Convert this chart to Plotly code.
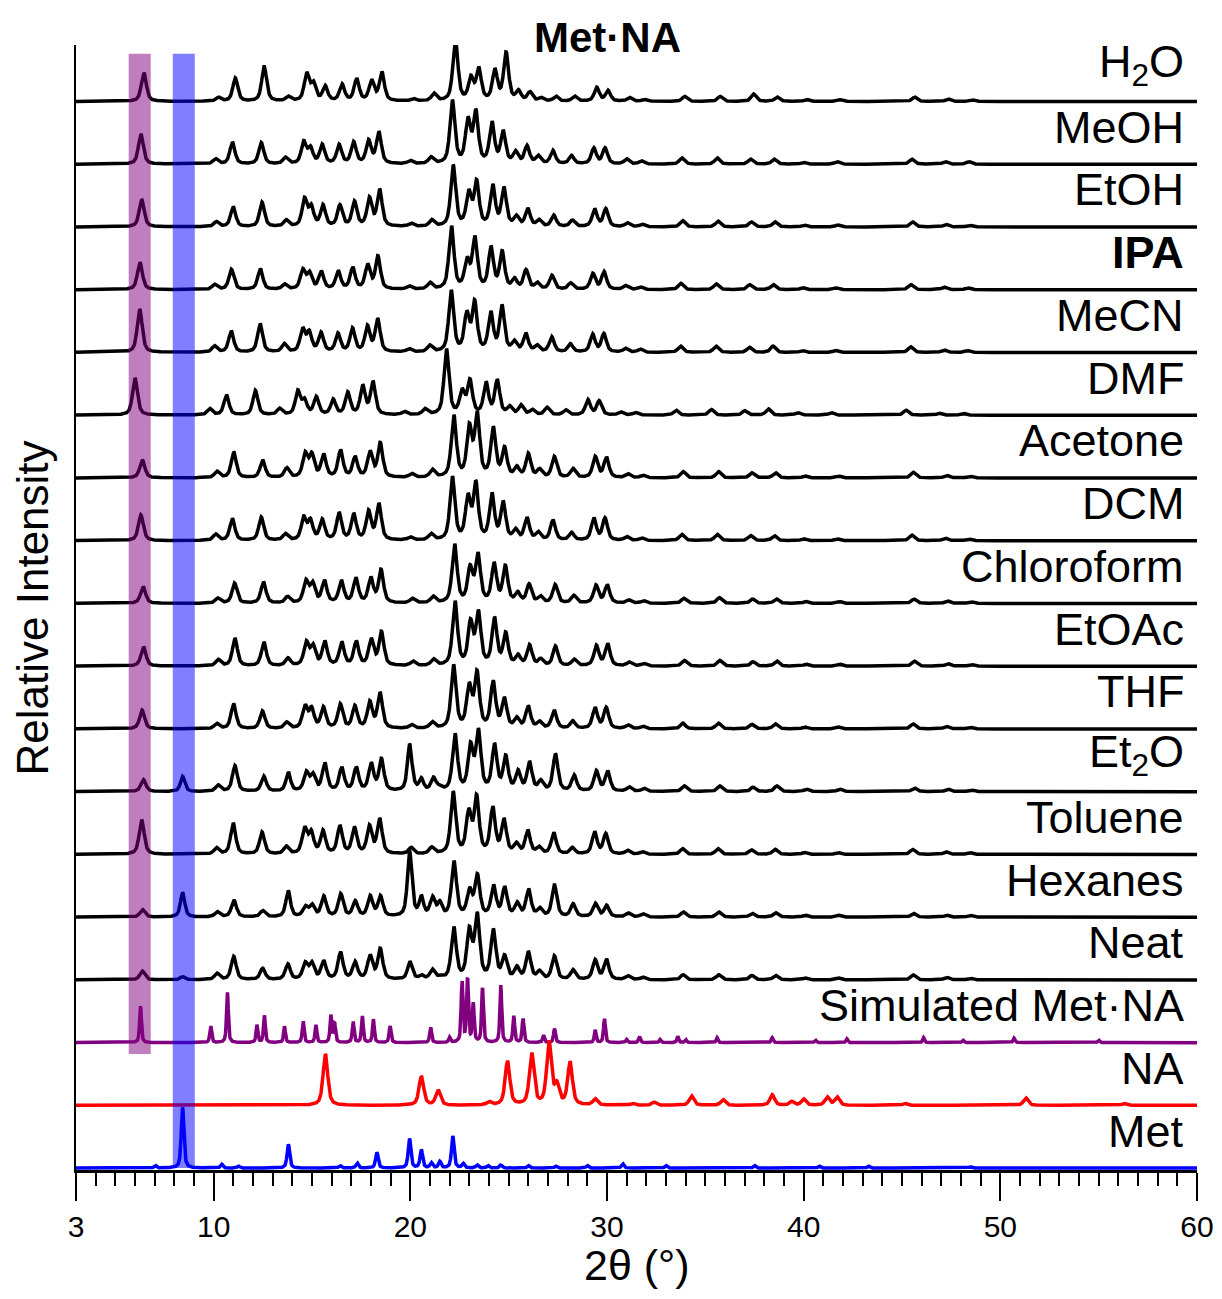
import numpy as np
import plotly.graph_objects as go

# ---------------- data ----------------
two_theta = np.arange(3.0, 60.0001, 0.02)

# common Met·NA reflections (experimental patterns)
metna_pos = [6.30, 10.10, 10.95, 12.42, 13.65, 14.58, 14.92, 15.52, 16.38, 17.12,
             17.88, 18.40, 20.00, 21.05, 22.14, 22.93, 23.33, 24.15, 24.72, 25.35,
             25.93, 26.50, 27.25, 28.20, 29.33, 29.90, 31.00, 31.75, 33.80, 35.60,
             37.30, 38.50, 40.00, 41.70, 45.50, 47.20, 48.40]

h2o_int = [0.46, 0.06, 0.37, 0.55, 0.07, 0.43, 0.27, 0.23, 0.26, 0.35, 0.32, 0.46, 0.04, 0.12,
           1.00, 0.35, 0.50, 0.48, 0.76, 0.15, 0.14, 0.05, 0.08, 0.08, 0.22, 0.17, 0.06, 0.03,
           0.08, 0.08, 0.12, 0.07, 0.03, 0.03, 0.07, 0.04, 0.03]
meoh_int = [0.48, 0.08, 0.35, 0.34, 0.10, 0.34, 0.24, 0.30, 0.30, 0.34, 0.36, 0.50, 0.05, 0.10,
            1.00, 0.67, 0.80, 0.64, 0.50, 0.18, 0.28, 0.12, 0.21, 0.13, 0.25, 0.25, 0.08, 0.05,
            0.10, 0.10, 0.08, 0.08, 0.03, 0.04, 0.08, 0.04, 0.04]
etoh_int = [0.44, 0.08, 0.32, 0.39, 0.10, 0.43, 0.30, 0.33, 0.33, 0.39, 0.44, 0.58, 0.05, 0.10,
            0.97, 0.52, 0.69, 0.64, 0.60, 0.15, 0.28, 0.10, 0.18, 0.10, 0.28, 0.28, 0.06, 0.04,
            0.10, 0.09, 0.08, 0.08, 0.03, 0.03, 0.08, 0.04, 0.03]
ipa_int = [0.44, 0.08, 0.32, 0.33, 0.08, 0.30, 0.25, 0.28, 0.29, 0.34, 0.38, 0.52, 0.05, 0.10,
           1.00, 0.44, 0.80, 0.65, 0.58, 0.15, 0.30, 0.10, 0.22, 0.10, 0.25, 0.28, 0.06, 0.04,
           0.10, 0.09, 0.08, 0.08, 0.03, 0.03, 0.08, 0.04, 0.03]
mecn_int = [0.69, 0.10, 0.34, 0.45, 0.13, 0.36, 0.30, 0.30, 0.29, 0.37, 0.40, 0.52, 0.05, 0.10,
            0.97, 0.58, 0.77, 0.61, 0.72, 0.15, 0.29, 0.10, 0.24, 0.13, 0.28, 0.29, 0.06, 0.05,
            0.10, 0.10, 0.08, 0.10, 0.03, 0.03, 0.09, 0.04, 0.03]
dmf_int = [0.59, 0.10, 0.32, 0.39, 0.10, 0.37, 0.22, 0.28, 0.24, 0.35, 0.45, 0.52, 0.05, 0.09,
           1.04, 0.36, 0.53, 0.50, 0.54, 0.12, 0.15, 0.08, 0.12, 0.08, 0.24, 0.22, 0.05, 0.04,
           0.08, 0.09, 0.07, 0.10, 0.04, 0.04, 0.08, 0.03, 0.03]
acetone_int = [0.29, 0.10, 0.41, 0.28, 0.15, 0.37, 0.35, 0.36, 0.43, 0.32, 0.40, 0.54, 0.06, 0.12,
               0.98, 0.77, 0.98, 0.77, 0.45, 0.15, 0.37, 0.12, 0.33, 0.14, 0.33, 0.32, 0.06, 0.04,
               0.10, 0.10, 0.08, 0.08, 0.03, 0.03, 0.09, 0.04, 0.03]
dcm_int = [0.41, 0.10, 0.35, 0.37, 0.10, 0.35, 0.30, 0.32, 0.43, 0.41, 0.45, 0.57, 0.05, 0.10,
           1.00, 0.66, 0.88, 0.72, 0.59, 0.15, 0.35, 0.12, 0.32, 0.12, 0.35, 0.35, 0.06, 0.04,
           0.10, 0.10, 0.08, 0.08, 0.03, 0.03, 0.09, 0.04, 0.03]
chloroform_int = [0.27, 0.08, 0.32, 0.34, 0.10, 0.34, 0.30, 0.35, 0.35, 0.39, 0.39, 0.52, 0.07, 0.10,
                  0.93, 0.53, 0.75, 0.61, 0.57, 0.15, 0.29, 0.10, 0.29, 0.12, 0.28, 0.29, 0.05, 0.04,
                  0.08, 0.09, 0.07, 0.07, 0.03, 0.03, 0.07, 0.04, 0.03]
etoac_int = [0.31, 0.10, 0.44, 0.38, 0.12, 0.36, 0.30, 0.38, 0.37, 0.38, 0.41, 0.53, 0.07, 0.10,
             1.02, 0.66, 0.82, 0.74, 0.50, 0.15, 0.32, 0.10, 0.31, 0.10, 0.32, 0.35, 0.06, 0.04,
             0.09, 0.09, 0.07, 0.08, 0.03, 0.03, 0.08, 0.04, 0.03]
thf_int = [0.30, 0.08, 0.40, 0.28, 0.10, 0.35, 0.30, 0.33, 0.38, 0.35, 0.41, 0.56, 0.06, 0.10,
           1.00, 0.65, 0.86, 0.73, 0.46, 0.15, 0.35, 0.10, 0.29, 0.12, 0.33, 0.33, 0.06, 0.04,
           0.09, 0.09, 0.07, 0.08, 0.03, 0.03, 0.08, 0.04, 0.03]
et2o_int = [0.19, 0.10, 0.41, 0.24, 0.10, 0.29, 0.25, 0.44, 0.37, 0.37, 0.43, 0.50, 0.06, 0.20,
            0.90, 0.69, 0.93, 0.72, 0.53, 0.30, 0.45, 0.15, 0.59, 0.25, 0.32, 0.32, 0.07, 0.05,
            0.09, 0.09, 0.07, 0.09, 0.04, 0.04, 0.06, 0.04, 0.03]
toluene_int = [0.55, 0.10, 0.50, 0.35, 0.12, 0.40, 0.33, 0.36, 0.44, 0.41, 0.43, 0.55, 0.10, 0.10,
               0.98, 0.64, 0.88, 0.72, 0.53, 0.15, 0.37, 0.10, 0.34, 0.10, 0.35, 0.32, 0.06, 0.04,
               0.09, 0.09, 0.07, 0.08, 0.03, 0.03, 0.08, 0.04, 0.03]
hexanes_int = [0.12, 0.08, 0.27, 0.10, 0.08, 0.15, 0.18, 0.32, 0.36, 0.24, 0.32, 0.32, 0.06, 0.29,
               0.87, 0.40, 0.64, 0.48, 0.45, 0.20, 0.43, 0.12, 0.50, 0.20, 0.21, 0.18, 0.06, 0.05,
               0.08, 0.08, 0.06, 0.07, 0.03, 0.03, 0.06, 0.03, 0.03]
neat_int = [0.14, 0.10, 0.37, 0.18, 0.10, 0.25, 0.25, 0.29, 0.43, 0.27, 0.37, 0.48, 0.05, 0.15,
            0.82, 0.75, 1.00, 0.77, 0.35, 0.18, 0.43, 0.12, 0.37, 0.15, 0.31, 0.32, 0.06, 0.04,
            0.08, 0.08, 0.07, 0.07, 0.03, 0.03, 0.08, 0.04, 0.03]

# residual Met reflections seen in some experimental patterns
met_residual_pos = [8.42, 13.80, 19.96, 20.56, 21.50]
et2o_met_int = [0.24, 0.20, 0.72, 0.18, 0.05]
hexanes_met_int = [0.39, 0.35, 1.00, 0.30, 0.20]
neat_met_int = [0.05, 0.16, 0.25, 0.06, 0.03]
no_met_int = [0.0, 0.0, 0.0, 0.0, 0.0]

sample_labels = ["H<sub>2</sub>O", "MeOH", "EtOH", "<b>IPA</b>", "MeCN", "DMF", "Acetone", "DCM",
                 "Chloroform", "EtOAc", "THF", "Et<sub>2</sub>O", "Toluene", "Hexanes", "Neat"]
sample_ints = [h2o_int, meoh_int, etoh_int, ipa_int, mecn_int, dmf_int, acetone_int, dcm_int,
               chloroform_int, etoac_int, thf_int, et2o_int, toluene_int, hexanes_int, neat_int]
sample_shift = [0.15, 0.00, 0.04, -0.05, -0.06, -0.30, 0.07, 0.00,
                0.11, 0.13, 0.06, 0.13, 0.04, 0.08, 0.07]
sample_met = [no_met_int] * 11 + [et2o_met_int, no_met_int, hexanes_met_int, neat_met_int]

# simulated Met·NA
sim_pos = [6.28, 9.85, 10.70, 12.20, 12.58, 13.60, 14.55, 15.20, 15.96, 16.15, 17.09, 17.56,
           18.12, 18.97, 21.03, 22.00, 22.63, 22.91, 23.20, 23.67, 24.60, 25.26, 25.73, 26.77,
           27.33, 29.40, 29.87, 31.00, 31.65, 32.70, 33.60, 34.00, 35.60, 38.40, 40.60, 42.20,
           46.10, 48.10, 50.70, 55.00]
sim_int = [0.58, 0.27, 0.80, 0.28, 0.43, 0.26, 0.35, 0.28, 0.43, 0.30, 0.34, 0.42,
           0.37, 0.27, 0.25, 0.08, 0.98, 1.00, 0.61, 0.86, 0.91, 0.42, 0.39, 0.12,
           0.23, 0.20, 0.39, 0.05, 0.10, 0.05, 0.10, 0.05, 0.08, 0.08, 0.04, 0.06,
           0.08, 0.04, 0.07, 0.04]

# nicotinamide (NA)
na_pos = [15.68, 20.56, 21.41, 24.00, 24.94, 26.17, 27.05, 27.45, 28.12, 29.40, 31.30, 32.40,
          34.30, 35.90, 38.40, 39.40, 40.00, 41.20, 41.70, 45.15, 51.30, 56.30]
na_int = [0.82, 0.46, 0.24, 0.05, 0.70, 0.82, 1.00, 0.30, 0.68, 0.10, 0.03, 0.05,
          0.15, 0.09, 0.17, 0.06, 0.10, 0.13, 0.13, 0.03, 0.12, 0.03]

# metformin (Met)
met_pos = [7.03, 8.42, 10.41, 11.26, 13.80, 16.43, 17.30, 18.30, 19.96, 20.56, 21.07, 21.50,
           22.16, 22.69, 23.40, 23.95, 24.60, 26.00, 27.40, 29.00, 30.80, 33.00, 37.50, 40.80,
           43.30, 48.50]
met_int = [0.04, 0.97, 0.06, 0.03, 0.38, 0.04, 0.08, 0.25, 0.47, 0.29, 0.08, 0.10,
           0.51, 0.07, 0.05, 0.04, 0.05, 0.04, 0.03, 0.04, 0.07, 0.04, 0.04, 0.03,
           0.03, 0.02]

x_ticks = [3, 10, 20, 30, 40, 50, 60]
purple_band = [5.68, 6.80]
blue_band = [7.92, 9.04]

# ---------------- helpers ----------------
def pattern(pos, inten, fwhm, shift=0.0, eta=0.6):
    y = np.zeros_like(two_theta)
    hw = fwhm / 2.0
    for p, h in zip(pos, inten):
        d = (two_theta - (p + shift)) / hw
        y += h * (eta / (1.0 + d * d) + (1 - eta) * np.exp(-np.log(2) * d * d))
    return y

FONT = "Liberation Sans, Arial, sans-serif"
fig = go.Figure()

offsets = []
for i, (lab, ints, sh, mi) in enumerate(zip(sample_labels, sample_ints, sample_shift, sample_met)):
    off = 17 - i
    offsets.append(off)
    y = pattern(metna_pos, ints, 0.30, sh) + pattern(met_residual_pos, mi, 0.26)
    fig.add_trace(go.Scatter(x=two_theta, y=y + off, mode="lines",
                             line=dict(color="black", width=3.5), showlegend=False))

bottom = [("Simulated Met·NA", sim_pos, sim_int, 0.11, "#800080", 2),
          ("NA", na_pos, na_int, 0.28, "#FF0000", 1),
          ("Met", met_pos, met_int, 0.16, "#0000FF", 0)]
for lab, p, h, w, c, off in bottom:
    y = pattern(p, h, w)
    fig.add_trace(go.Scatter(x=two_theta, y=y + off, mode="lines",
                             line=dict(color=c, width=3.5), showlegend=False))

labels_all = sample_labels + [b[0] for b in bottom]
offs_all = offsets + [b[5] for b in bottom]
for lab, off in zip(labels_all, offs_all):
    fig.add_annotation(x=59.45, y=off + 0.59, text=lab, showarrow=False,
                       xanchor="right", yanchor="middle",
                       font=dict(family=FONT, size=45, color="black"))

# highlight bands
fig.add_shape(type="rect", xref="x", yref="y", x0=purple_band[0], x1=purple_band[1],
              y0=1.82, y1=17.76, fillcolor="#800080", opacity=0.5, line_width=0, layer="above")
fig.add_shape(type="rect", xref="x", yref="y", x0=blue_band[0], x1=blue_band[1],
              y0=0.0, y1=17.76, fillcolor="#0000FF", opacity=0.5, line_width=0, layer="above")

# title and axis titles
fig.add_annotation(x=30, xref="x", y=1.0071, yref="paper", text="<b>Met·NA</b>",
                   showarrow=False, xanchor="center", yanchor="middle",
                   font=dict(family=FONT, size=42, color="black"))
fig.add_annotation(x=-0.0384, xref="paper", y=0.5, yref="paper", text="Relative Intensity",
                   textangle=-90, showarrow=False, xanchor="center", yanchor="middle",
                   font=dict(family=FONT, size=44, color="black"))
fig.add_annotation(x=0.5, xref="paper", y=-0.1076, yref="paper", text="2θ (°)",
                   showarrow=False, xanchor="center", yanchor="bottom",
                   font=dict(family=FONT, size=43, color="black"))

# the page body adds an 8 px margin, so the figure is 16 px smaller than the window
fig.update_layout(
    width=1206, height=1283, autosize=False,
    margin=dict(l=68, r=17, t=37, b=121, autoexpand=False),
    paper_bgcolor="white", plot_bgcolor="white",
    xaxis=dict(range=[3, 60], tickvals=x_ticks, ticktext=[str(t) for t in x_ticks],
               automargin=False,
               ticks="outside", ticklen=28, tickwidth=1.5, tickcolor="black",
               showline=True, linecolor="black", linewidth=2.5, showgrid=False, zeroline=False,
               tickfont=dict(family=FONT, size=30, color="black"),
               minor=dict(dtick=1, tick0=0, ticks="outside", ticklen=13, tickwidth=1.5,
                          tickcolor="black", showgrid=False)),
    yaxis=dict(range=[-0.03, 17.9], showticklabels=False, ticks="", showgrid=False,
               automargin=False,
               zeroline=False, showline=True, linecolor="black", linewidth=2),
)

fig.write_html("out.html")
